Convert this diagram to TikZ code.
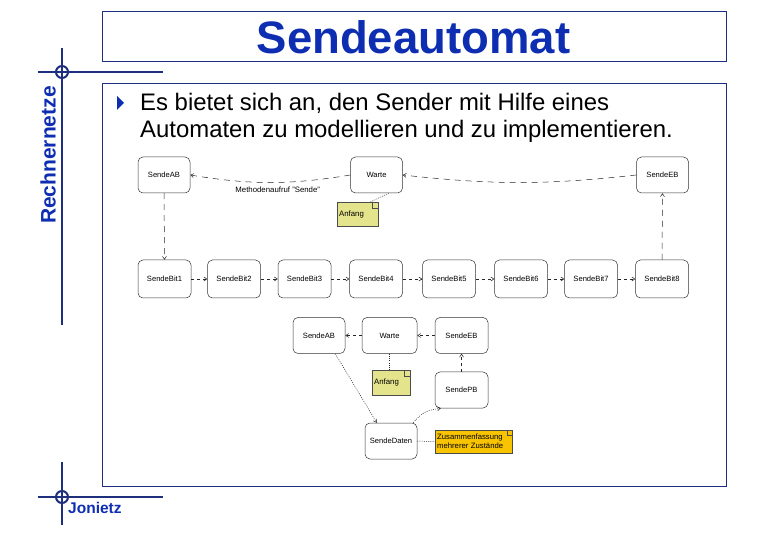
\documentclass[tikz,border=0pt]{standalone}
\usepackage{fontspec}
\setmainfont{Liberation Sans}
\usetikzlibrary{arrows.meta}
\definecolor{titleblue}{RGB}{14,46,178}
\definecolor{navy}{RGB}{30,48,125}
\definecolor{noteyel}{RGB}{228,228,140}
\definecolor{noteora}{RGB}{248,196,0}
\tikzset{
  frame/.style={draw=navy, line width=1pt},
  cross/.style={draw=navy, line width=2pt},
  stbox/.style={draw=black!80, line width=0.5pt, rounded corners=5pt, minimum width=52pt, minimum height=36pt, inner sep=0pt, font=\fontsize{7.6}{8}\selectfont},
  bitbox/.style={stbox, minimum width=53pt, minimum height=38pt},
  trans/.style={draw=black!85, line width=0.5pt, dash pattern=on 6pt off 5pt, -{Straight Barb[length=3pt,width=4pt]}},
  assoc/.style={draw=black!85, line width=0.5pt, dash pattern=on 1pt off 1.2pt},
  notebox/.style={draw=black!70, line width=0.4pt, inner xsep=2pt, inner ysep=1.5pt, align=left, font=\fontsize{7.8}{8.6}\selectfont, anchor=north west},
  lbl/.style={font=\fontsize{7.8}{8}\selectfont}
}
\begin{document}
\begin{tikzpicture}[x=1pt,y=-1pt]
\useasboundingbox (0,0) rectangle (780,540);
% frames
\draw[frame] (102,12) rectangle (726,62);
\draw[frame] (102,84) rectangle (726,486);
\node[font=\fontsize{45.5}{48}\bfseries, text=titleblue] (title) at (413.5,37) {Sendeautomat};
% crosshairs
\draw[cross] (62,48) -- (62,325);
\draw[cross] (38,72) -- (163,72);
\draw[cross] (62,72) circle (6);
\draw[cross] (62,462) -- (62,525);
\draw[cross] (38,497) -- (163,497);
\draw[cross] (62,497) circle (6);
\node[rotate=90, font=\fontsize{21}{24}\bfseries, text=titleblue] (rn) at (48,155) {Rechnernetze};
\node[anchor=base west, font=\fontsize{15.5}{17}\bfseries, text=titleblue, inner sep=0pt] (jo) at (68,513) {Jonietz};
% bullet
\fill[titleblue] (117,96) -- (124,103) -- (117,110) -- cycle;
\node[anchor=base west, inner sep=0pt, font=\fontsize{23.9}{27}\selectfont] (l1) at (140,111) {Es bietet sich an, den Sender mit Hilfe eines};
\node[anchor=base west, inner sep=0pt, font=\fontsize{23.9}{27}\selectfont] (l2) at (140,138) {Automaten zu modellieren und zu implementieren.};
% top row
\node[stbox] (ab) at (164,175) {SendeAB};
\node[stbox] (w) at (376.5,175) {Warte};
\node[stbox] (eb) at (662.5,175) {SendeEB};
\node[notebox, fill=noteyel, text width=37pt, minimum height=24pt] (an) at (337,202) {Anfang};
\draw[black!70, line width=0.4pt] ([xshift=-6pt]an.north east) -- ([xshift=-6pt,yshift=-6pt]an.north east) -- ([yshift=-6pt]an.north east);
\draw[assoc] ([xshift=-8pt]an.north east) -- ([xshift=-14pt]w.south east);
\draw[trans] (eb.west) .. controls +(-90,10) and +(90,10) .. (w.east);
\draw[trans] (w.west) .. controls +(-60,10) and +(60,10) .. (ab.east)
  node[lbl, pos=0.45, below=1pt] {Methodenaufruf "Sende"};
% bit row
\foreach \i/\x in {1/164.5,2/234,3/304.5,4/376,5/449,6/521,7/591,8/662}{
  \node[bitbox] (b\i) at (\x,279) {SendeBit\i};
}
\foreach \i/\j in {1/2,2/3,3/4,4/5,5/6,6/7,7/8}{
  \draw[trans, dash pattern=on 3pt off 3pt] (b\i.east) -- (b\j.west);
}
\draw[trans] (ab.south) -- (b1.north);
\draw[trans] (b8.north) -- (eb.south);
% lower group
\node[stbox] (ab2) at (319,335.5) {SendeAB};
\node[stbox, minimum width=55pt] (w2) at (389.5,335.5) {Warte};
\node[stbox, minimum width=53pt] (eb2) at (461.5,335.5) {SendeEB};
\node[stbox, minimum width=53pt] (pb) at (461.5,390) {SendePB};
\node[notebox, fill=noteyel, text width=34pt, minimum height=25pt] (an2) at (372,370) {Anfang};
\draw[black!70, line width=0.4pt] ([xshift=-6pt]an2.north east) -- ([xshift=-6pt,yshift=-6pt]an2.north east) -- ([yshift=-6pt]an2.north east);
\draw[assoc] (w2.south) -- (w2.south |- an2.north);
\draw[trans, dash pattern=on 3pt off 3pt] (w2.west) -- (ab2.east);
\draw[trans, dash pattern=on 3pt off 3pt] (eb2.west) -- (w2.east);
\draw[trans, dash pattern=on 3pt off 3pt] (pb.north) -- (eb2.south);
\node[stbox] (sd) at (391,441) {SendeDaten};
\draw[assoc, -{Straight Barb[length=3pt,width=4pt]}] ([xshift=-10pt]ab2.south east) -- ([xshift=12pt]sd.north west);
\draw[assoc, -{Straight Barb[length=3pt,width=4pt]}] ([xshift=-4pt]sd.north east) .. controls +(10,-12) and +(-12,2) .. ([xshift=6pt]pb.south west);
\node[notebox, fill=noteora, text width=73pt, minimum height=23pt, inner ysep=1pt, font=\fontsize{7.7}{9}\selectfont] (zf) at (435,430) {Zusammenfassung\\mehrerer Zustände};
\draw[black!70, line width=0.4pt] ([xshift=-5pt]zf.north east) -- ([xshift=-5pt,yshift=-5pt]zf.north east) -- ([yshift=-5pt]zf.north east);
\draw[assoc] (sd.east) -- (zf.west);
\end{tikzpicture}
\end{document}
